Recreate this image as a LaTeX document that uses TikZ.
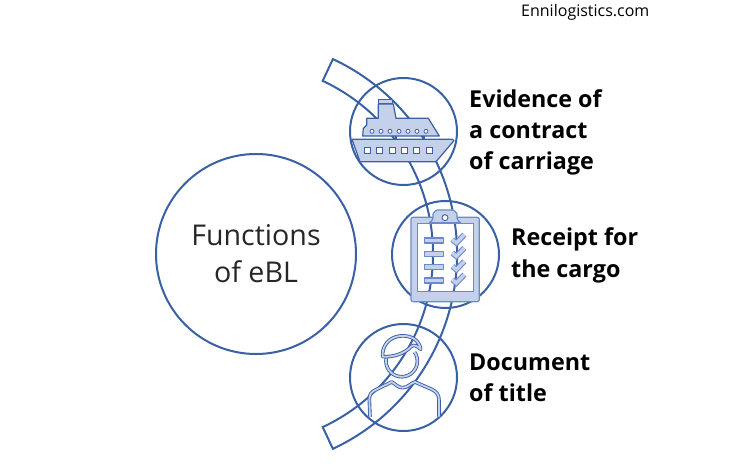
\documentclass[tikz,border=0pt]{standalone}
\usepackage{fontspec}
\setmainfont{Open Sans}
\definecolor{lineblue}{HTML}{3A60A6}
\definecolor{iconfill}{HTML}{C5D0EA}
\definecolor{iconedge}{HTML}{6C8ACB}
\tikzset{
  ring/.style={circle,draw=lineblue,line width=2pt,inner sep=0pt,minimum size=#1},
  sidelabel/.style={font=\fontsize{23.3}{23.3}\selectfont\bfseries,anchor=base west,inner sep=0pt,text=black},
  ctitle/.style={font=\fontsize{28.6}{28.6}\selectfont,anchor=base,inner sep=0pt,text=black!85},
  iconshape/.style={fill=iconfill,draw=lineblue,line width=1.2pt,line join=round},
  framepart/.style={fill=iconfill,draw=iconedge,line width=1.2pt,line join=round},
  outlined/.style={draw=lineblue,line width=.9pt,double=iconfill,double distance=1.8pt,line join=round}
}
\begin{document}
\begin{tikzpicture}[x=1pt,y=-1pt]
\useasboundingbox (0,0) rectangle (737,468);
% curved band that runs behind the icon circles
\coordinate (bandA) at (332.9,59.1);
\coordinate (bandB) at (322.7,427.1);
\draw[lineblue,line width=2pt,line join=miter]
  (bandA) arc[start angle=65,end angle=-65,radius=215pt]
  -- (bandB) arc[start angle=-65,end angle=65,radius=191pt] -- cycle;
% main circles
\node[ring=200pt] (main) at (256,254) {};
\node[ring=107pt] (ringship) at (403.5,131.5) {};
\node[ring=107pt] (ringclip) at (445.5,254.5) {};
\node[ring=107pt] (ringperson) at (403.5,377.5) {};
% ship
\begin{scope}[shift={(310,50)},x=.3333pt,y=-.3333pt]
  \draw[iconshape] (205,148) rectangle (248,162);
  \draw[iconshape] (205,162) -- (250,162) -- (258,205) -- (355,205) -- (388,258)
    -- (158,258) -- (160,235) -- (170,225) -- (170,205) -- (205,205) -- cycle;
  \draw[lineblue,line width=1.2pt] (258,258) -- (258,268) (342,258) -- (342,268);
  \draw[iconshape] (126,268) -- (428,268) -- (432,272) -- (378,335) -- (150,335) -- cycle;
  \foreach \px in {186,213,240,267,294,321,348}
    \draw[lineblue,line width=.8pt,fill=white] (\px,244) circle[radius=6];
  \foreach \wx in {173,210,247,284,320,358}
    \draw[lineblue,line width=1pt,fill=white] (\wx-9,292) rectangle (\wx+9,310);
\end{scope}
% clipboard
\begin{scope}[shift={(380,190)},x=.3333pt,y=-.3333pt]
  \fill[iconfill,even odd rule,rounded corners=2pt] (93,82) rectangle (298,335) (112,100) rectangle (280,305);
  \draw[iconedge,line width=1.2pt,rounded corners=2pt] (93,82) rectangle (298,335);
  \draw[iconedge,line width=1.2pt] (112,100) rectangle (280,305);
  \draw[framepart] (148,98) to[bend right=25] (159,84) -- (159,72) to[bend left=25] (172,60)
    -- (218,60) to[bend left=25] (231,72) -- (231,84) to[bend right=25] (242,98) -- cycle;
  \draw[lineblue,line width=.9pt,fill=white] (195,83) circle[radius=9];
  \foreach \ry in {144,184,224,264} {
    \draw[framepart] (133,\ry) rectangle (190,\ry+15);
    \draw[iconedge,line width=5.6pt,line join=miter] (217,\ry+5) -- (229,\ry+15) -- (253,\ry-10);
    \draw[iconfill,line width=3.4pt,line join=miter] (217,\ry+5) -- (229,\ry+15) -- (253,\ry-10);
  }
\end{scope}
% person
\begin{scope}[shift={(310,320)},x=.3333pt,y=-.3333pt]
  \draw[outlined] (228.7,115) arc[start angle=170,end angle=395,radius=15.7pt];
  \draw[outlined] (218,110) .. controls (215,80) and (235,52) .. (270,48)
    .. controls (300,45) and (328,58) .. (332,88)
    .. controls (322,78) and (312,72) .. (303,80)
    .. controls (285,100) and (250,112) .. (218,110) -- cycle;
  \draw[outlined] (180,290) -- (178,238) .. controls (178,222) and (185,215) .. (200,208)
    -- (245,186) .. controls (258,192) and (262,203) .. (278,203)
    .. controls (295,203) and (300,190) .. (315,186)
    -- (365,208) .. controls (380,215) and (387,225) .. (387,240) -- (387,290);
\end{scope}
% text
\node[sidelabel] (l1) at (469,108) {Evidence of};
\node[sidelabel] (l2) at (469,139) {a contract};
\node[sidelabel] (l3) at (469,170) {of carriage};
\node[sidelabel] (l4) at (511,246) {Receipt for};
\node[sidelabel] (l5) at (511,277) {the cargo};
\node[sidelabel] (l6) at (469,370) {Document};
\node[sidelabel] (l7) at (469,401) {of title};
\node[ctitle] (t1) at (256,246) {Functions};
\node[ctitle] (t2) at (256,282) {of eBL};
\node[font=\fontsize{16}{16}\selectfont,anchor=base west,inner sep=0pt,text=black] (site) at (521,17) {Ennilogistics.com};
\end{tikzpicture}
\end{document}
